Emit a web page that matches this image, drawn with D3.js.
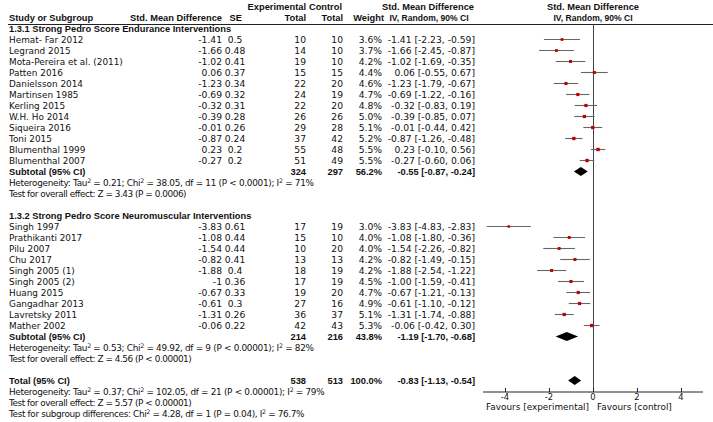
<!DOCTYPE html>
<html><head><meta charset="utf-8">
<script src="https://cdn.jsdelivr.net/npm/d3@7"></script>
<style>
body{margin:0;background:#fff;}
text{font-family:"DejaVu Sans",sans-serif;font-size:8.9px;fill:#111;}
.n{font-size:9.2px;}
.b{font-family:"Liberation Sans",Arial,sans-serif;font-weight:bold;font-size:9.3px;}
.fh{letter-spacing:-0.3px;}
.ft{letter-spacing:-0.45px;}
.fs{letter-spacing:-0.35px;}
</style></head><body>
<svg id="c" width="713" height="422"></svg>
<script>
// ---- data ----
const g1Names=["Hemat- Far 2012","Legrand 2015","Mota-Pereira et al. (2011)","Patten 2016","Danielsson 2014","Martinsen 1985","Kerling 2015","W.H. Ho 2014","Siqueira 2016","Toni 2015","Blumenthal 1999","Blumenthal 2007"];
const g1SMD=[-1.41,-1.66,-1.02,0.06,-1.23,-0.69,-0.32,-0.39,-0.01,-0.87,0.23,-0.27];
const g1SE=[0.5,0.48,0.41,0.37,0.34,0.32,0.31,0.28,0.26,0.24,0.2,0.2];
const g1Exp=[10,14,19,15,22,24,22,26,29,37,55,51];
const g1Ctl=[10,10,10,15,20,19,20,26,28,42,48,49];
const g1W=[3.6,3.7,4.2,4.4,4.6,4.7,4.8,5.0,5.1,5.2,5.5,5.5];
const g1Lo=[-2.23,-2.45,-1.69,-0.55,-1.79,-1.22,-0.83,-0.85,-0.44,-1.26,-0.10,-0.60];
const g1Hi=[-0.59,-0.87,-0.35,0.67,-0.67,-0.16,0.19,0.07,0.42,-0.48,0.56,0.06];

const g2Names=["Singh 1997","Prathikanti 2017","Pilu 2007","Chu 2017","Singh 2005 (1)","Singh 2005 (2)","Huang 2015","Gangadhar 2013","Lavretsky 2011","Mather 2002"];
const g2SMD=[-3.83,-1.08,-1.54,-0.82,-1.88,-1,-0.67,-0.61,-1.31,-0.06];
const g2SE=[0.61,0.44,0.44,0.41,0.4,0.36,0.33,0.3,0.26,0.22];
const g2Exp=[17,15,10,13,18,17,19,27,36,42];
const g2Ctl=[19,10,20,13,19,19,20,16,37,43];
const g2W=[3.0,4.0,4.0,4.2,4.2,4.5,4.7,4.9,5.1,5.3];
const g2Lo=[-4.83,-1.80,-2.26,-1.49,-2.54,-1.59,-1.21,-1.10,-1.74,-0.42];
const g2Hi=[-2.83,-0.36,-0.82,-0.15,-1.22,-0.41,-0.13,-0.12,-0.88,0.30];

const subLabels=["Subtotal (95% CI)","Subtotal (95% CI)","Total (95% CI)"];
const subExp=[324,214,538];
const subCtl=[297,216,513];
const subW=[56.2,43.8,100.0];
const subEst=[-0.55,-1.19,-0.83];
const subLo=[-0.87,-1.70,-1.13];
const subHi=[-0.24,-0.68,-0.54];

const groupTitles=["1.3.1 Strong Pedro Score Endurance Interventions","1.3.2 Strong Pedro Score Neuromuscular Interventions"];
const hetText=[
 ["Heterogeneity: Tau","2"," = 0.21; Chi","2"," = 38.05, df = 11 (P < 0.0001); I","2"," = 71%"],
 ["Heterogeneity: Tau","2"," = 0.53; Chi","2"," = 49.92, df = 9 (P < 0.00001); I","2"," = 82%"],
 ["Heterogeneity: Tau","2"," = 0.37; Chi","2"," = 102.05, df = 21 (P < 0.00001); I","2"," = 79%"]];
const overallText=["Test for overall effect: Z = 3.43 (P = 0.0006)","Test for overall effect: Z = 4.56 (P < 0.00001)","Test for overall effect: Z = 5.57 (P < 0.00001)"];
const subgroupText=["Test for subgroup differences: Chi","2"," = 4.28, df = 1 (P = 0.04), I","2"," = 76.7%"];
const xTicks=[-4,-2,0,2,4];
const favourLabels=["Favours [experimental]","Favours [control]"];

// ---- layout ----
const svg=d3.select("#c");
const x=d3.scaleLinear().domain([-5,5]).range([483,703]);
const y0=39.5, step=11;
const rowY=n=>y0+step*n;
const bl=3.3; // baseline offset
const fmt=v=>v.toFixed(2);
const ciStr=(e,l,h)=>`${fmt(e)} [${fmt(l)}, ${fmt(h)}]`;
const col={study:9,smd:222,se:235,exp:306,ctl:343,w:382,ci:475};

function txt(xp,yp,s,anchor,cls){
  return svg.append("text").attr("x",xp).attr("y",yp).attr("text-anchor",anchor||"start").attr("class",cls||null).text(s);
}
function supText(xp,yp,parts,cls){
  const t=svg.append("text").attr("x",xp).attr("y",yp).attr("class",cls||null);
  parts.forEach((p,i)=>{
    if(i%2===1){t.append("tspan").attr("dy",-3.3).style("font-size","6.3px").text(p);}
    else{t.append("tspan").attr("dy",i>0?3.3:0).text(p);}
  });
  return t;
}

// headers
txt(col.exp,6.5+bl,"Experimental","end","b");
txt(342,6.5+bl,"Control","end","b");
txt(col.study,17.5+bl,"Study or Subgroup","start","b");
txt(222,17.5+bl,"Std. Mean Difference","end","b");
txt(242,17.5+bl,"SE","end","b");
txt(col.exp,17.5+bl,"Total","end","b");
txt(col.ctl,17.5+bl,"Total","end","b");
txt(384,17.5+bl,"Weight","end","b");
txt(428,6.5+bl,"Std. Mean Difference","middle","b");
txt(429,17.5+bl,"IV, Random, 90% CI","middle","b").attr("textLength",79).attr("lengthAdjust","spacingAndGlyphs");
txt(x(0),6.5+bl,"Std. Mean Difference","middle","b");
txt(x(0),17.5+bl,"IV, Random, 90% CI","middle","b").attr("textLength",79).attr("lengthAdjust","spacingAndGlyphs");
svg.append("line").attr("x1",8).attr("x2",713).attr("y1",24.5).attr("y2",24.5).attr("stroke","#222").attr("stroke-width",1);

// zero line
svg.append("line").attr("x1",x(0)+0.5).attr("x2",x(0)+0.5).attr("y1",24.5).attr("y2",392).attr("stroke","#444").attr("stroke-width",1);

const groups=[
 {names:g1Names,smd:g1SMD,se:g1SE,exp:g1Exp,ctl:g1Ctl,w:g1W,lo:g1Lo,hi:g1Hi,start:0},
 {names:g2Names,smd:g2SMD,se:g2SE,exp:g2Exp,ctl:g2Ctl,w:g2W,lo:g2Lo,hi:g2Hi,start:17}];

function diamond(i,yc,h){
  const p=[[x(subLo[i]),yc],[x(subEst[i]),yc-h/2],[x(subHi[i]),yc],[x(subEst[i]),yc+h/2]];
  svg.append("path").attr("d","M"+p.map(q=>q.join(",")).join("L")+"Z").attr("fill","#000");
}
function summaryRow(i,yc){
  txt(col.study,yc+bl,subLabels[i],"start","b");
  txt(col.exp,yc+bl,subExp[i],"end","b");
  txt(col.ctl,yc+bl,subCtl[i],"end","b");
  txt(col.w,yc+bl,subW[i].toFixed(1)+"%","end","b");
  txt(col.ci,yc+bl,ciStr(subEst[i],subLo[i],subHi[i]),"end","b");
  diamond(i,yc,9);
}

groups.forEach((g,gi)=>{
  txt(col.study,rowY(g.start-1)+bl,groupTitles[gi],"start","b");
  g.names.forEach((nm,i)=>{
    const yc=rowY(g.start+i);
    txt(col.study,yc+bl,nm);
    txt(col.smd,yc+bl,String(g.smd[i]),"end","n");
    txt(col.se,yc+bl,String(g.se[i]),"middle","n");
    txt(col.exp,yc+bl,g.exp[i],"end","n");
    txt(col.ctl,yc+bl,g.ctl[i],"end","n");
    txt(col.w,yc+bl,g.w[i].toFixed(1)+"%","end","n");
    txt(col.ci,yc+bl,ciStr(g.smd[i],g.lo[i],g.hi[i]),"end","n");
    svg.append("line").attr("x1",x(g.lo[i])).attr("x2",x(g.hi[i])).attr("y1",yc).attr("y2",yc).attr("stroke","#666").attr("stroke-width",1.1);
    const s=1.45*Math.sqrt(g.w[i]);
    svg.append("rect").attr("x",x(g.smd[i])-s/2).attr("y",yc-s/2).attr("width",s).attr("height",s).attr("fill","#c00000");
  });
  const ys=rowY(g.start+g.names.length);
  summaryRow(gi,ys);
  supText(col.study,ys+11+bl,hetText[gi],"fh");
  txt(col.study,ys+22+bl,overallText[gi],"start","ft");
});

const yt=rowY(31);
summaryRow(2,yt);
supText(col.study,yt+11+bl,hetText[2],"fh");
txt(col.study,yt+22+bl,overallText[2],"start","ft");
supText(col.study,yt+33+bl,subgroupText,"fs");

// axis
const axY=392;
const ax=svg.append("g").attr("transform",`translate(0,${axY})`);
ax.append("line").attr("x1",x(-5)).attr("x2",x(5)).attr("y1",0).attr("y2",0).attr("stroke","#222");
xTicks.forEach(t=>{
  ax.append("line").attr("x1",x(t)+0.5).attr("x2",x(t)+0.5).attr("y1",-4).attr("y2",0).attr("stroke","#222");
  ax.append("text").attr("x",x(t)).attr("y",8.3).attr("text-anchor","middle").style("font-size","8.4px").text(t<0?"-"+Math.abs(t):String(t));
});
txt(x(0)-4,409.5,favourLabels[0],"end");
txt(x(0)+4,409.5,favourLabels[1],"start");
</script></body></html>
